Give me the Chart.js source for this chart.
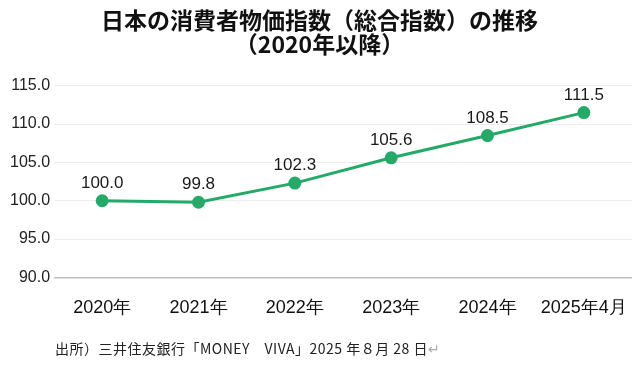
<!DOCTYPE html>
<html>
<head>
<meta charset="utf-8">
<script src="https://cdn.jsdelivr.net/npm/chart.js@4.4.1/dist/chart.umd.min.js"></script>
<style>
  html, body { margin: 0; padding: 0; background: #fff; }
  #wrap { width: 640px; height: 369px; position: relative; }
</style>
</head>
<body>
<div id="wrap"><canvas id="cpiChart"></canvas></div>
<script>
// データ
const years = ['2020年', '2021年', '2022年', '2023年', '2024年', '2025年4月'];
const cpiValues = [100.0, 99.8, 102.3, 105.6, 108.5, 111.5];
const yTicks = [90, 95, 100, 105, 110, 115];
const titleLines = ['日本の消費者物価指数（総合指数）の推移', '（2020年以降）'];
const sourceText = '出所）三井住友銀行「MONEY　VIVA」2025 年８月 28 日';

const lineColor = '#25a968';

// 点の上に値を描く
const valueLabels = {
  id: 'valueLabels',
  afterDatasetsDraw(chart) {
    const ctx = chart.ctx;
    const meta = chart.getDatasetMeta(0);
    ctx.save();
    ctx.font = '17px "Liberation Sans", Arial, sans-serif';
    ctx.fillStyle = '#1a1a1a';
    ctx.textAlign = 'center';
    ctx.textBaseline = 'bottom';
    meta.data.forEach((pt, i) => {
      ctx.fillText(cpiValues[i].toFixed(1), pt.x, pt.y - 9);
    });
    ctx.restore();
  }
};

// 出所の一行（幅を元の画像に合わせる）
const sourceNote = {
  id: 'sourceNote',
  afterDraw(chart) {
    const ctx = chart.ctx;
    ctx.save();
    ctx.font = '14px "Noto Sans CJK JP", sans-serif';
    ctx.textAlign = 'left';
    ctx.textBaseline = 'middle';
    const n = [...sourceText].length;
    const w0 = ctx.measureText(sourceText).width;
    const sp = Math.max(0, (373 - w0) / n);
    ctx.letterSpacing = sp + 'px';
    ctx.fillStyle = '#222';
    ctx.fillText(sourceText, 55, 349);
    const w = ctx.measureText(sourceText).width;
    ctx.letterSpacing = '0px';
    ctx.fillStyle = '#aaa';
    ctx.fillText('↵', 55 + w, 349);
    ctx.restore();
  }
};

const ctx = document.getElementById('cpiChart').getContext('2d');
new Chart(ctx, {
  type: 'line',
  data: {
    labels: years,
    datasets: [{
      data: cpiValues,
      borderColor: lineColor,
      backgroundColor: lineColor,
      borderWidth: 3,
      pointRadius: 5,
      pointHoverRadius: 5,
      tension: 0,
      fill: false
    }]
  },
  options: {
    responsive: true,
    maintainAspectRatio: false,
    animation: false,
    layout: { padding: { top: 8, left: 6, right: 7, bottom: 30 } },
    plugins: {
      legend: { display: false },
      tooltip: { enabled: false },
      title: {
        display: true,
        text: titleLines,
        color: '#111',
        font: { family: '"Noto Sans CJK JP", sans-serif', size: 23, weight: 'bold', lineHeight: 1.06 },
        padding: { top: 0, bottom: 29 }
      }
    },
    scales: {
      x: {
        offset: true,
        grid: { display: false, drawTicks: false },
        border: { display: false },
        afterFit(axis) {
          axis.paddingLeft = 0;
          axis.paddingRight = 0;
        },
        ticks: {
          color: '#111',
          padding: 20,
          font: { family: '"Liberation Sans", Arial, sans-serif', size: 18 }
        }
      },
      y: {
        min: 90,
        max: 115,
        afterBuildTicks(axis) {
          axis.ticks = yTicks.map(v => ({ value: v }));
        },
        grid: {
          color: ctx2 => ctx2.tick.value === 90 ? '#bdbdbd' : '#ececec',
          lineWidth: ctx2 => ctx2.tick.value === 90 ? 1.5 : 1,
          drawTicks: false
        },
        border: { display: false },
        ticks: {
          color: '#222',
          padding: 4,
          font: { family: '"Liberation Sans", Arial, sans-serif', size: 16 },
          callback: v => Number(v).toFixed(1)
        }
      }
    }
  },
  plugins: [valueLabels, sourceNote]
});
</script>
</body>
</html>
